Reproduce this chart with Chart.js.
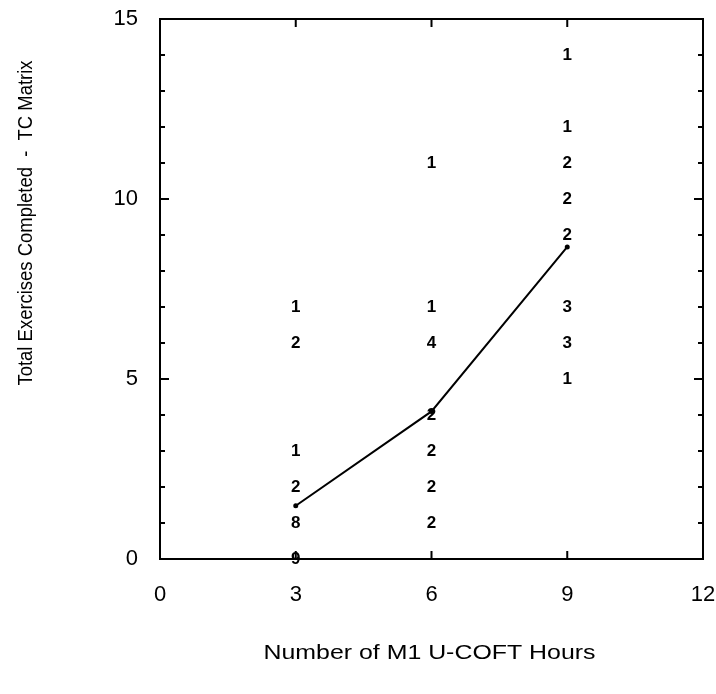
<!DOCTYPE html>
<html><head><meta charset="utf-8">
<script src="https://cdn.jsdelivr.net/npm/chart.js@4/dist/chart.umd.min.js"></script>
<style>html,body{margin:0;padding:0;background:#fff}#wrap{width:716px;height:694px}</style>
</head><body><div id="wrap"><canvas id="c" width="716" height="694"></canvas></div>
<script>
// Mean line (Number of M1 U-COFT Hours vs mean exercises completed)
const hours = [3, 6, 9];
const meanExercises = [1.48, 4.1, 8.67];
// Frequency counts plotted as numerals
const countX = [3, 3, 3, 3, 3, 3, 6, 6, 6, 6, 6, 6, 6, 9, 9, 9, 9, 9, 9, 9, 9];
const countY = [7, 6, 3, 2, 1, 0, 11, 7, 6, 4, 3, 2, 1, 14, 12, 11, 10, 9, 7, 6, 5];
const countN = [1, 2, 1, 2, 8, 9, 1, 1, 4, 2, 2, 2, 2, 1, 1, 2, 2, 2, 3, 3, 1];
const xTickValues = [0, 3, 6, 9, 12];
const yTickValues = [0, 5, 10, 15];
const xTitle = 'Number of M1 U-COFT Hours';
const yTitle = 'Total Exercises Completed  -  TC Matrix';

const FONT = "'Liberation Sans', Arial, Helvetica, sans-serif";

const framePlugin = {
  id: 'frame',
  afterDraw(chart) {
    const ctx = chart.ctx, a = chart.chartArea;
    const xs = chart.scales.x, ys = chart.scales.y;
    ctx.save();
    ctx.strokeStyle = '#000';
    ctx.lineWidth = 2;
    ctx.strokeRect(a.left, a.top, a.right - a.left, a.bottom - a.top);
    ctx.beginPath();
    for (let v = ys.min + 1; v < ys.max; v++) {
      const y = ys.getPixelForValue(v);
      const len = (v % 5 === 0) ? 9 : 5;
      ctx.moveTo(a.left, y); ctx.lineTo(a.left + len, y);
      ctx.moveTo(a.right, y); ctx.lineTo(a.right - len, y);
    }
    xTickValues.forEach(v => {
      if (v === xs.min || v === xs.max) return;
      const x = xs.getPixelForValue(v);
      ctx.moveTo(x, a.bottom); ctx.lineTo(x, a.bottom - 8);
      ctx.moveTo(x, a.top); ctx.lineTo(x, a.top + 8);
    });
    ctx.stroke();
    // axis titles
    ctx.fillStyle = '#000';
    ctx.font = "21px " + FONT;
    ctx.textAlign = 'center';
    ctx.textBaseline = 'middle';
    let w = ctx.measureText(xTitle).width;
    ctx.save();
    ctx.translate((a.left + a.right) / 2 - 2, 653);
    ctx.scale(332 / w, 1);
    ctx.fillText(xTitle, 0, 0);
    ctx.restore();
    w = ctx.measureText(yTitle).width;
    ctx.save();
    ctx.translate(26, 223);
    ctx.rotate(-Math.PI / 2);
    ctx.scale(325 / w, 1);
    ctx.fillText(yTitle, 0, 0);
    ctx.restore();
    ctx.restore();
  }
};

const countLabelPlugin = {
  id: 'countLabels',
  afterDatasetsDraw(chart) {
    const meta = chart.getDatasetMeta(1);
    const ctx = chart.ctx;
    ctx.save();
    ctx.fillStyle = '#000';
    ctx.font = "bold 17px " + FONT;
    ctx.textAlign = 'center';
    ctx.textBaseline = 'middle';
    meta.data.forEach((el, i) => {
      ctx.fillText(String(countN[i]), el.x, el.y);
    });
    ctx.restore();
  }
};

new Chart(document.getElementById('c'), {
  type: 'scatter',
  data: {
    datasets: [
      {
        type: 'line',
        label: 'Mean',
        data: hours.map((h, i) => ({ x: h, y: meanExercises[i] })),
        borderColor: '#000',
        backgroundColor: '#000',
        borderWidth: 2,
        pointRadius: 1.5,
        pointHoverRadius: 1.5,
        fill: false,
        tension: 0
      },
      {
        label: 'Counts',
        data: countX.map((x, i) => ({ x: x, y: countY[i] })),
        pointRadius: 0,
        pointHoverRadius: 0,
        borderWidth: 0
      }
    ]
  },
  options: {
    responsive: false,
    animation: false,
    events: [],
    layout: { padding: { top: 19, right: 13, left: 0, bottom: 0 } },
    plugins: { legend: { display: false }, tooltip: { enabled: false } },
    scales: {
      x: {
        type: 'linear', min: 0, max: 12,
        afterBuildTicks(s) { s.ticks = xTickValues.map(v => ({ value: v })); },
        afterFit(s) { s.height = 135; s.paddingLeft = 0; s.paddingRight = 0; },
        grid: { display: false, drawTicks: false },
        border: { display: false },
        ticks: { color: '#000', font: { family: FONT, size: 22 }, padding: 23, maxRotation: 0, autoSkip: false }
      },
      y: {
        type: 'linear', min: 0, max: 15,
        afterBuildTicks(s) { s.ticks = yTickValues.map(v => ({ value: v })); },
        afterFit(s) { s.width = 160; s.paddingTop = 0; s.paddingBottom = 0; },
        grid: { display: false, drawTicks: false },
        border: { display: false },
        ticks: { color: '#000', font: { family: FONT, size: 22 }, padding: 22, autoSkip: false }
      }
    }
  },
  plugins: [framePlugin, countLabelPlugin]
});
</script>
</body></html>
